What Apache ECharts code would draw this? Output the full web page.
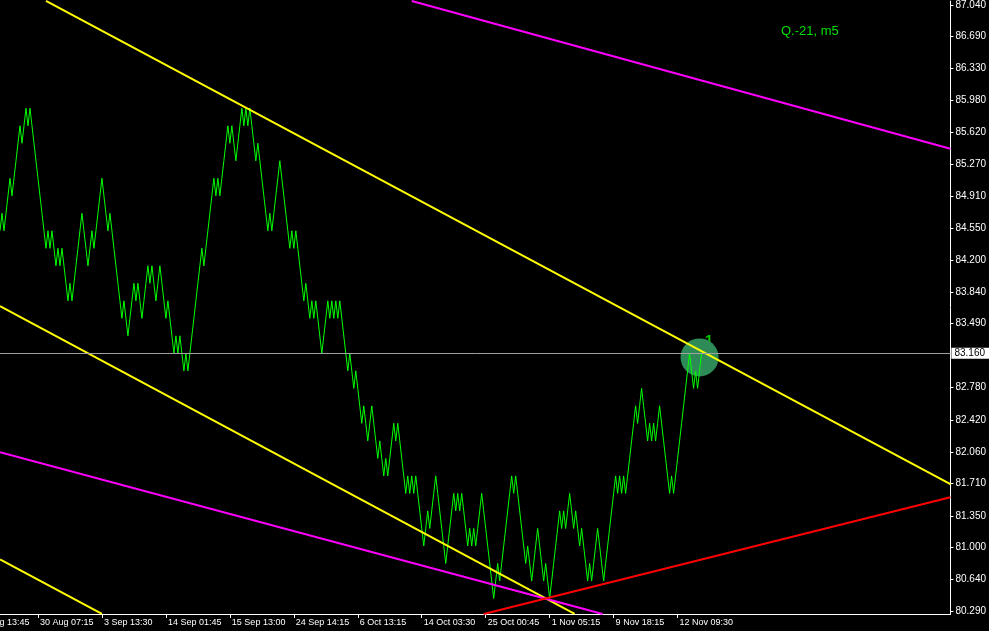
<!DOCTYPE html>
<html><head><meta charset="utf-8">
<script src="https://cdn.jsdelivr.net/npm/echarts@6/dist/echarts.min.js"></script>
<style>html,body{margin:0;padding:0;background:#000;overflow:hidden}#c{width:989px;height:631px}</style>
</head><body><div id="c"></div>
<script>
// ---- data ----
const closes = [
84.525,84.72,84.525,84.72,84.915,85.11,84.915,85.11,85.305,85.5,
85.695,85.5,85.695,85.89,85.695,85.89,85.695,85.5,85.305,85.11,
84.915,84.72,84.525,84.33,84.525,84.33,84.525,84.33,84.135,84.33,
84.135,84.33,84.135,83.94,83.745,83.94,83.745,83.94,84.135,84.33,
84.525,84.72,84.525,84.33,84.135,84.33,84.525,84.33,84.525,84.72,
84.915,85.11,84.915,84.72,84.525,84.72,84.525,84.33,84.135,83.94,
83.745,83.55,83.745,83.55,83.355,83.55,83.745,83.94,83.745,83.94,
83.745,83.55,83.745,83.94,84.135,83.94,84.135,83.94,83.745,83.94,
84.135,83.94,83.745,83.55,83.745,83.55,83.355,83.16,83.355,83.16,
83.355,83.16,82.965,83.16,82.965,83.16,83.355,83.55,83.745,83.94,
84.135,84.33,84.135,84.33,84.525,84.72,84.915,85.11,84.915,85.11,
84.915,85.11,85.305,85.5,85.695,85.5,85.695,85.5,85.305,85.5,
85.695,85.89,85.695,85.89,85.695,85.89,85.695,85.5,85.305,85.5,
85.305,85.11,84.915,84.72,84.525,84.72,84.525,84.72,84.915,85.11,
85.305,85.11,84.915,84.72,84.525,84.33,84.525,84.33,84.525,84.33,
84.135,83.94,83.745,83.94,83.745,83.55,83.745,83.55,83.745,83.55,
83.355,83.16,83.355,83.55,83.745,83.55,83.745,83.55,83.745,83.55,
83.745,83.55,83.355,83.16,82.965,83.16,82.965,82.77,82.965,82.77,
82.575,82.38,82.575,82.38,82.185,82.38,82.575,82.38,82.185,81.99,
82.185,81.99,81.795,81.99,81.795,81.99,82.185,82.38,82.185,82.38,
82.185,81.99,81.795,81.6,81.795,81.6,81.795,81.6,81.795,81.6,
81.405,81.21,81.015,81.21,81.405,81.21,81.405,81.6,81.795,81.6,
81.405,81.21,81.015,80.82,81.015,81.21,81.405,81.6,81.405,81.6,
81.405,81.6,81.405,81.21,81.015,81.21,81.015,81.21,81.015,81.21,
81.405,81.6,81.405,81.21,81.015,80.82,80.625,80.43,80.625,80.82,
80.625,80.82,81.015,81.21,81.405,81.6,81.795,81.6,81.795,81.6,
81.405,81.21,81.015,80.82,81.015,80.82,80.625,80.82,81.015,81.21,
81.015,80.82,80.625,80.82,80.625,80.43,80.625,80.82,81.015,81.21,
81.405,81.21,81.405,81.21,81.405,81.6,81.405,81.21,81.405,81.21,
81.015,81.21,81.015,80.82,80.625,80.82,80.625,80.82,81.015,81.21,
81.015,80.82,80.625,80.82,81.015,81.21,81.405,81.6,81.795,81.6,
81.795,81.6,81.795,81.6,81.795,81.99,82.185,82.38,82.575,82.38,
82.575,82.77,82.575,82.38,82.185,82.38,82.185,82.38,82.185,82.38,
82.575,82.38,82.185,81.99,81.795,81.6,81.795,81.6,81.795,81.99,
82.185,82.38,82.575,82.77,82.965,83.16,82.965,82.77,82.965,82.77,
82.965,83.16
];
const priceTicks = [87.04, 86.69, 86.33, 85.98, 85.62, 85.27, 84.91, 84.55, 84.20, 83.84,
                    83.49, 82.78, 82.42, 82.06, 81.71, 81.35, 81.00, 80.64, 80.29];
const timeLabels = ['30 Aug 07:15', '3 Sep 13:30', '14 Sep 01:45', '15 Sep 13:00', '24 Sep 14:15',
                    '6 Oct 13:15', '14 Oct 03:30', '25 Oct 00:45', '1 Nov 05:15', '9 Nov 18:15', '12 Nov 09:30'];
const timeLabelBars = [19, 51, 83, 115, 147, 179, 211, 243, 275, 307, 339];
const offLeftLabel = '27 Aug 13:45';
const lastPrice = 83.16;
const chartTitle = 'Q.-21, m5';
const arrowGlyph = '1';
const yellowUpper  = [[23, 87.085], [475.5, 81.702]];
const yellowMiddle = [[0, 83.687], [287.5, 80.257]];
const yellowLower  = [[0, 80.864], [51, 80.257]];
const magentaUpper = [[206, 87.085], [475.5, 85.439]];
const magentaLower = [[0, 82.058], [301.5, 80.257]];
const redLine      = [[242, 80.257], [475.5, 81.558]];
const signalPoint  = [[350, 83.115]];
const barAxisMax = 475.5;
const priceMin = 80.2566, priceMax = 87.0845;

// ---- chart ----
const FONT = 'Liberation Sans';
const chart = echarts.init(document.getElementById('c'), null, {renderer: 'canvas'});
function trend(data, color) {
  return {type: 'line', data: data, symbol: 'none', clip: true, silent: true, z: 4,
          lineStyle: {color: color, width: 2}, animation: false};
}
chart.setOption({
  backgroundColor: '#000000',
  animation: false,
  grid: {left: 0, top: 0, width: 951, height: 614, containLabel: false},
  xAxis: {
    type: 'value', min: 0, max: barAxisMax, position: 'bottom',
    axisLine: {show: true, onZero: false, lineStyle: {color: '#ffffff', width: 1}},
    axisTick: {show: true, customValues: timeLabelBars, length: 4, lineStyle: {color: '#ffffff'}},
    axisLabel: {customValues: timeLabelBars,
      formatter: v => { const k = timeLabelBars.indexOf(Math.round(v)); return k >= 0 ? timeLabels[k] : ''; },
      color: '#ffffff', fontFamily: FONT, fontSize: 9, align: 'left', margin: 4, padding: [0, 0, 0, 2]},
    splitLine: {show: false}
  },
  yAxis: {
    type: 'value', position: 'right', min: priceMin, max: priceMax,
    axisLine: {show: true, onZero: false, lineStyle: {color: '#ffffff', width: 1}},
    axisTick: {show: true, customValues: priceTicks, length: 3, lineStyle: {color: '#ffffff'}},
    axisLabel: {customValues: priceTicks, formatter: v => Number(v).toFixed(3),
      color: '#ffffff', fontFamily: FONT, fontSize: 10, margin: 5},
    splitLine: {show: false}
  },
  series: [
    {type: 'scatter', data: signalPoint, symbol: 'circle', symbolSize: 38, silent: true, z: 1,
     itemStyle: {color: '#2e8b57', opacity: 1}},
    {type: 'line', data: closes.map((v, i) => [i, v]), symbol: 'none', z: 3, silent: true,
     lineStyle: {color: '#00ff00', width: 1},
     markLine: {silent: true, symbol: ['none', 'none'], animation: false,
       lineStyle: {color: '#a0a0a0', width: 1, type: 'solid'},
       label: {show: true, position: 'end', formatter: lastPrice.toFixed(3), color: '#000000',
               backgroundColor: '#ffffff', padding: [1, 5, 0, 3], distance: 1, fontFamily: FONT, fontSize: 10},
       emphasis: {disabled: true},
       data: [{yAxis: lastPrice}]}},
    trend(yellowUpper, '#ffff00'),
    trend(yellowMiddle, '#ffff00'),
    trend(yellowLower, '#ffff00'),
    trend(magentaUpper, '#ff00ff'),
    trend(magentaLower, '#ff00ff'),
    trend(redLine, '#ff0000')
  ],
  graphic: [
    {type: 'text', x: 781, y: 31, silent: true,
     style: {text: chartTitle, fill: '#00e000', font: '13px "Liberation Sans"', verticalAlign: 'middle'}},
    {type: 'text', x: 709, y: 341, silent: true,
     style: {text: arrowGlyph, fill: '#00c800', font: 'bold 15px "Liberation Sans"', align: 'center', verticalAlign: 'middle'}},
    {type: 'text', x: -24, y: 618, silent: true,
     style: {text: offLeftLabel, fill: '#ffffff', font: '9px "Liberation Sans"', verticalAlign: 'top'}}
  ]
});
</script>
</body></html>
